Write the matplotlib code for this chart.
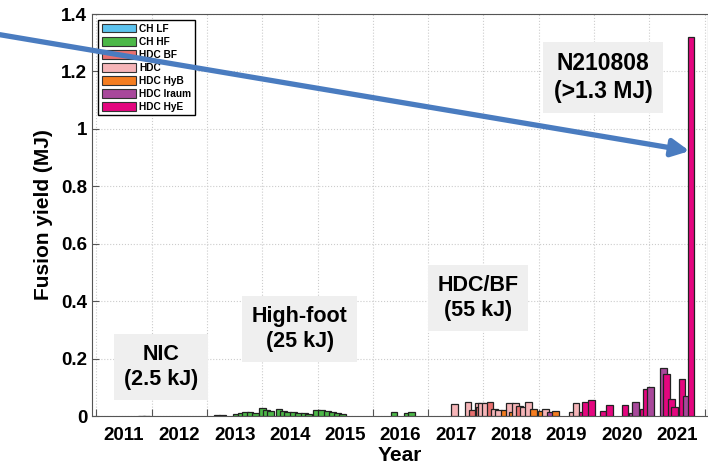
import matplotlib
matplotlib.use("Agg")
import matplotlib.pyplot as plt
from matplotlib.patches import Patch
import numpy as np

plt.rcParams['font.family'] = ['Liberation Sans', 'DejaVu Sans']
plt.rcParams['font.weight'] = 'bold'
plt.rcParams['axes.labelweight'] = 'bold'

# shot data: decimal year and fusion yield (MJ), one pair of lists per campaign
ch_lf_year = [2011.82, 2011.90, 2013.18, 2013.28]
ch_lf_mj = [0.001, 0.001, 0.002, 0.002]

ch_hf_year = [2013.53, 2013.62, 2013.70, 2013.78, 2013.88, 2014.00, 2014.07, 2014.15,
              2014.30, 2014.38, 2014.46, 2014.56, 2014.66, 2014.76, 2014.84, 2014.98,
              2015.07, 2015.18, 2015.27, 2015.36, 2015.45, 2016.38, 2016.62, 2016.70]
ch_hf_mj = [0.006, 0.009, 0.013, 0.015, 0.012, 0.027, 0.022, 0.019,
            0.025, 0.017, 0.013, 0.014, 0.012, 0.010, 0.007, 0.022,
            0.020, 0.018, 0.015, 0.010, 0.006, 0.013, 0.011, 0.015]

hdc_bf_year = [2017.80, 2017.93, 2018.12, 2018.65]
hdc_bf_mj = [0.020, 0.030, 0.050, 0.035]

hdc_year = [2017.48, 2017.72, 2017.90, 2017.96, 2018.03, 2018.20, 2018.27, 2018.47,
            2018.58, 2018.72, 2018.81, 2019.12, 2019.60, 2019.67]
hdc_mj = [0.042, 0.049, 0.045, 0.045, 0.045, 0.025, 0.022, 0.045,
          0.045, 0.030, 0.050, 0.025, 0.013, 0.045]

hdc_hyb_year = [2018.37, 2018.53, 2018.90, 2019.05, 2019.30]
hdc_hyb_mj = [0.022, 0.015, 0.025, 0.018, 0.017]

hdc_iraum_year = [2019.20, 2020.70, 2020.75, 2021.02, 2021.26, 2021.67]
hdc_iraum_mj = [0.013, 0.010, 0.050, 0.100, 0.168, 0.068]

hdc_hye_year = [2019.78, 2019.85, 2019.95, 2020.16, 2020.28, 2020.56, 2020.89, 2020.94,
                2021.31, 2021.40, 2021.45, 2021.59, 2021.75]
hdc_hye_mj = [0.015, 0.050, 0.055, 0.017, 0.037, 0.038, 0.025, 0.095,
              0.145, 0.060, 0.033, 0.130, 1.320]

labels = ['CH LF', 'CH HF', 'HDC BF', 'HDC', 'HDC HyB', 'HDC Iraum', 'HDC HyE']
colors = ['#5cc3ef', '#4cb848', '#e9706f', '#f6b5b8', '#f47d20', '#a8489b', '#e4067f']
years = [ch_lf_year, ch_hf_year, hdc_bf_year, hdc_year, hdc_hyb_year, hdc_iraum_year, hdc_hye_year]
yields = [ch_lf_mj, ch_hf_mj, hdc_bf_mj, hdc_mj, hdc_hyb_mj, hdc_iraum_mj, hdc_hye_mj]

x_all = np.concatenate([np.array(y, float) for y in years])
y_all = np.concatenate([np.array(v, float) for v in yields])
c_all = np.concatenate([[c] * len(y) for c, y in zip(colors, years)])
order = np.argsort(x_all, kind='stable')

fig = plt.figure(figsize=(7.08, 4.69), dpi=100)
ax = fig.add_axes([92 / 708, 53 / 469, 616 / 708, 402 / 469])

ax.bar(x_all[order], y_all[order], width=0.12, color=c_all[order],
       edgecolor='#222222', linewidth=0.9, zorder=3)

ax.set_xlim(2010.92, 2022.06)
ax.set_ylim(0, 1.4)

tick_years = list(range(2011, 2022))
ax.set_xticks(np.arange(2011, 2023), labels=[''] * 12)
ax.set_xticks([t + 0.5 for t in tick_years], labels=[str(t) for t in tick_years], minor=True)
ax.tick_params(axis='x', which='minor', length=0, labelsize=13.5, pad=8)
ax.tick_params(axis='x', which='major', direction='in', length=5, color='#555555')
ax.set_yticks(np.arange(0, 1.41, 0.2), labels=['0', '0.2', '0.4', '0.6', '0.8', '1', '1.2', '1.4'])
ax.tick_params(axis='y', direction='in', length=5, labelsize=13.5, color='#555555')

ax.grid(True, which='major', linestyle=':', color='#cccccc', linewidth=0.8, zorder=0)
for s in ax.spines.values():
    s.set_color('#555555')

ax.set_ylabel('Fusion yield (MJ)', fontsize=15, fontweight='bold', labelpad=6)
ax.set_xlabel('Year', fontsize=15, fontweight='bold', labelpad=1)

box = dict(boxstyle='square,pad=0.45', facecolor='#efefef', edgecolor='none')
ax.text(2012.17, 0.171, 'NIC\n(2.5 kJ)', ha='center', va='center', fontsize=15.5,
        linespacing=1.25, bbox=box, zorder=4)
ax.text(2014.68, 0.303, 'High-foot\n(25 kJ)', ha='center', va='center', fontsize=15.5,
        linespacing=1.25, bbox=box, zorder=4)
ax.text(2017.90, 0.411, 'HDC/BF\n(55 kJ)', ha='center', va='center', fontsize=15.5,
        linespacing=1.25, bbox=box, zorder=4)
ax.text(2020.16, 1.178, 'N210808\n(>1.3 MJ)', ha='center', va='center', fontsize=16.5,
        linespacing=1.25, bbox=box, zorder=4)

handles = [Patch(facecolor=c, edgecolor='#333333', linewidth=0.8) for c in colors]
leg = ax.legend(handles, labels, loc='upper left', bbox_to_anchor=(0.007, 0.99),
                fontsize=7.3, labelspacing=0.3, handlelength=3.4, handleheight=0.95,
                handletextpad=0.3, borderpad=0.35, borderaxespad=0.2,
                fancybox=False, edgecolor='black', framealpha=1)
leg.get_frame().set_linewidth(1.0)
leg.set_zorder(5)

ax.annotate('', xy=(0.974, 0.678), xytext=(0.0, 0.926),
            xycoords='figure fraction', textcoords='figure fraction',
            arrowprops=dict(arrowstyle='-|>', mutation_scale=26, lw=3.8,
                            color='#4a7cc0', shrinkA=0, shrinkB=0),
            annotation_clip=False, zorder=10)

fig.savefig('out.png', dpi=100)
